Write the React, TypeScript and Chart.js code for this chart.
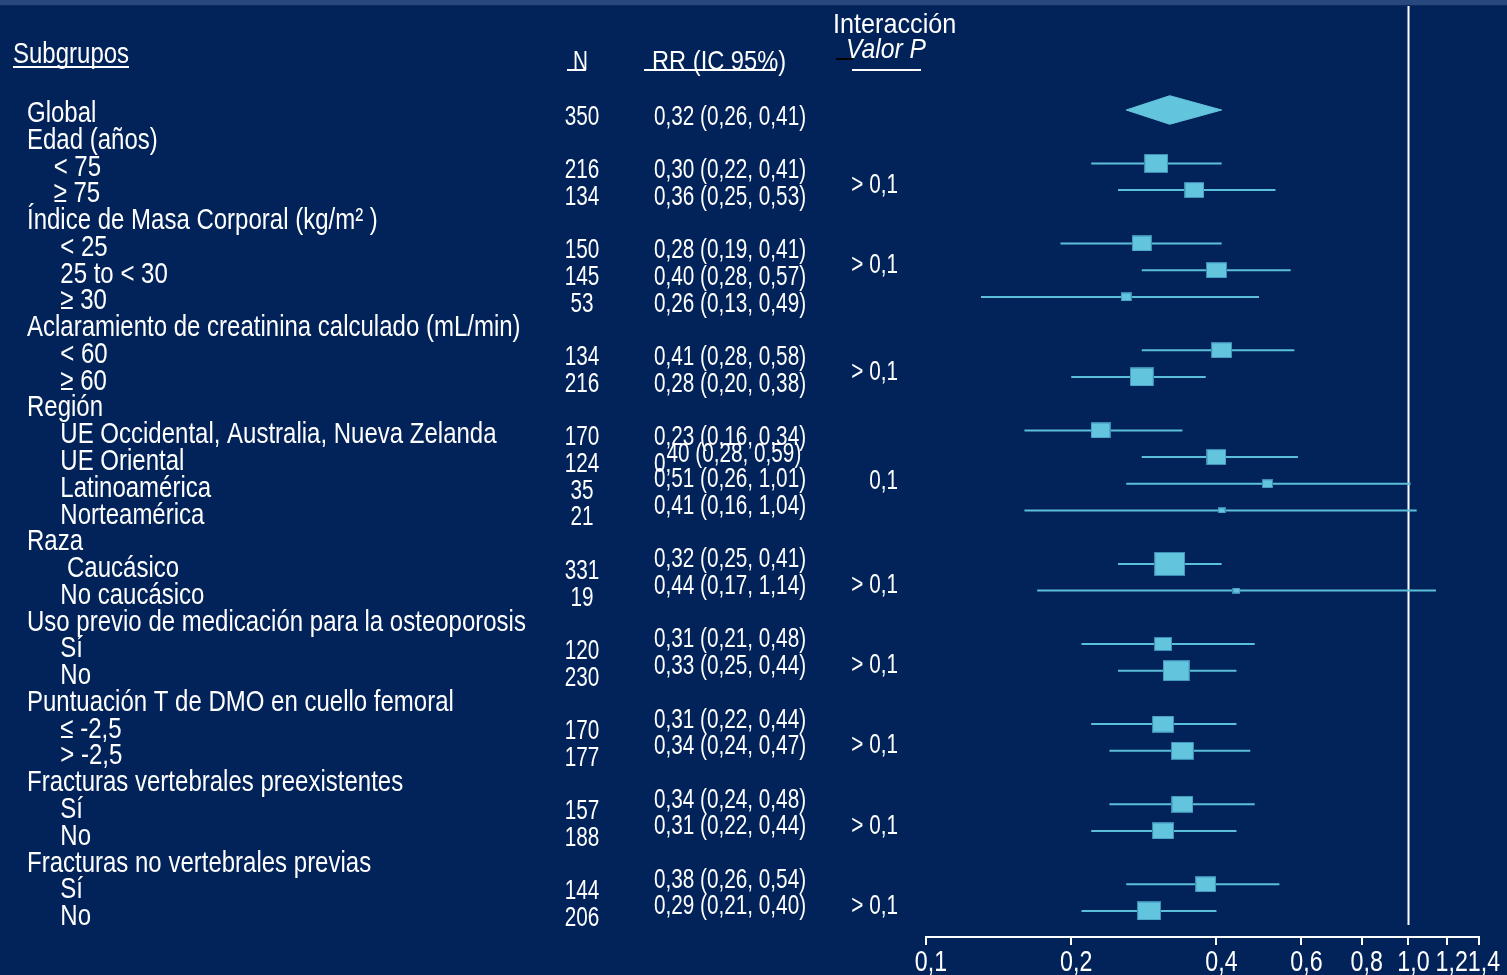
import React, { useEffect, useRef } from 'react';
import { Chart, registerables } from 'chart.js';

Chart.register(...registerables);

// Row labels (leading spaces give the indentation of the subgroups)
const rowLabels = [
  'Global',
  'Edad (años)',
  '    < 75',
  '    ≥ 75',
  'Índice de Masa Corporal (kg/m² )',
  '     < 25',
  '     25 to < 30',
  '     ≥ 30',
  'Aclaramiento de creatinina calculado (mL/min)',
  '     < 60',
  '     ≥ 60',
  'Región',
  '     UE Occidental, Australia, Nueva Zelanda',
  '     UE Oriental',
  '     Latinoamérica',
  '     Norteamérica',
  'Raza',
  '      Caucásico',
  '     No caucásico',
  'Uso previo de medicación para la osteoporosis',
  '     Sí',
  '     No',
  'Puntuación T de DMO en cuello femoral',
  '     ≤ -2,5',
  '     > -2,5',
  'Fracturas vertebrales preexistentes',
  '     Sí',
  '     No',
  'Fracturas no vertebrales previas',
  '     Sí',
  '     No',
];

const nValues: (number | null)[] = [
  350, null, 216, 134, null, 150, 145, 53, null, 134, 216, null, 170, 124, 35, 21,
  null, 331, 19, null, 120, 230, null, 170, 177, null, 157, 188, null, 144, 206,
];

const rrValues: (number | null)[] = [
  0.32, null, 0.30, 0.36, null, 0.28, 0.40, 0.26, null, 0.41, 0.28, null, 0.23, 0.40, 0.51, 0.41,
  null, 0.32, 0.44, null, 0.31, 0.33, null, 0.31, 0.34, null, 0.34, 0.31, null, 0.38, 0.29,
];

const ciLow: (number | null)[] = [
  0.26, null, 0.22, 0.25, null, 0.19, 0.28, 0.13, null, 0.28, 0.20, null, 0.16, 0.28, 0.26, 0.16,
  null, 0.25, 0.17, null, 0.21, 0.25, null, 0.22, 0.24, null, 0.24, 0.22, null, 0.26, 0.21,
];

const ciHigh: (number | null)[] = [
  0.41, null, 0.41, 0.53, null, 0.41, 0.57, 0.49, null, 0.58, 0.38, null, 0.34, 0.59, 1.01, 1.04,
  null, 0.41, 1.14, null, 0.48, 0.44, null, 0.44, 0.47, null, 0.48, 0.44, null, 0.54, 0.40,
];

// Interaction p-values, one per subgroup family
const pValues = ['> 0,1', '> 0,1', '> 0,1', '0,1', '> 0,1', '> 0,1', '> 0,1', '> 0,1', '> 0,1'];
// row (in y-scale units) where each p-value is printed
const pRows = [2.5, 5.5, 9.5, 13.6, 17.5, 20.5, 23.5, 26.5, 29.5];

const xTicks = [0.1, 0.2, 0.4, 0.6, 0.8, 1.0, 1.2, 1.4];

const BG = '#022359';
const STRIP = '#26487d';
const CYAN = '#63c5dd';
const CYAN_EDGE = '#3b8cb5';
const LINE = '#5cbfd9';
const WHITE = '#ffffff';
const FONT = '"Liberation Sans", Arial, sans-serif';

const Y_MIN = -3.895;
const Y_MAX = 30.974;
const DIAMOND_HALF = 0.535;
const BOX_SCALE = 6.6;
const BOX_ASPECT = 0.78;

const fmt = (v: number) => v.toFixed(2).replace('.', ',');
const fmtTick = (v: number) => v.toFixed(1).replace('.', ',');
const rrText = (i: number) =>
  `${fmt(rrValues[i] as number)} (${fmt(ciLow[i] as number)}, ${fmt(ciHigh[i] as number)})`;

// box size shrinks as the confidence interval widens (inverse-variance weighting)
function markerBox(lo: number, hi: number): HTMLCanvasElement {
  const w = Math.max(6, Math.round(BOX_SCALE / Math.log10(hi / lo)));
  const h = Math.max(5, Math.round(w * BOX_ASPECT));
  const c = document.createElement('canvas');
  c.width = w;
  c.height = h;
  const g = c.getContext('2d')!;
  g.fillStyle = CYAN_EDGE;
  g.fillRect(0, 0, w, h);
  g.fillStyle = CYAN;
  g.fillRect(1, 1, w - 2, h - 2);
  return c;
}

function drawText(
  ctx: CanvasRenderingContext2D,
  s: string,
  x: number,
  y: number,
  size: number,
  sx: number,
  align: CanvasTextAlign = 'left',
  italic = false,
) {
  ctx.save();
  ctx.font = `${italic ? 'italic ' : ''}${size}px ${FONT}`;
  ctx.fillStyle = WHITE;
  ctx.textBaseline = 'alphabetic';
  ctx.textAlign = align;
  ctx.translate(x, y);
  ctx.scale(sx, 1);
  ctx.fillText(s, 0, 0);
  ctx.restore();
}

const forestPlugin = {
  id: 'forestPlot',
  beforeDraw(chart: any) {
    const { ctx, width, height } = chart;
    ctx.save();
    ctx.fillStyle = BG;
    ctx.fillRect(0, 0, width, height);
    ctx.fillStyle = STRIP;
    ctx.fillRect(0, 0, width, 5);
    ctx.fillStyle = '#0c2a5b';
    ctx.fillRect(0, 5, width, 1);
    ctx.restore();
  },
  beforeDatasetsDraw(chart: any) {
    const { ctx, chartArea } = chart;
    const x = Math.round(chart.scales.x.getPixelForValue(1)) + 0.5;
    ctx.save();
    ctx.strokeStyle = WHITE;
    ctx.lineWidth = 2;
    ctx.beginPath();
    ctx.moveTo(x, chartArea.top);
    ctx.lineTo(x, chartArea.bottom - 12);
    ctx.stroke();
    ctx.restore();
  },
  afterDraw(chart: any) {
    const { ctx } = chart;
    const ys = chart.scales.y;
    const xs = chart.scales.x;

    // column headers
    drawText(ctx, 'Subgrupos', 13, 63, 30, 0.8);
    ctx.fillStyle = WHITE;
    ctx.fillRect(13, 66, 116, 2);
    drawText(ctx, 'N', 573, 70, 28, 0.74);
    ctx.fillStyle = WHITE;
    ctx.fillRect(567, 69, 19, 2);
    drawText(ctx, 'RR (IC 95%)', 652, 70, 28, 0.845);
    ctx.fillStyle = WHITE;
    ctx.fillRect(644, 69, 132, 2);
    drawText(ctx, 'Interacción', 833, 33, 28, 0.9);
    drawText(ctx, 'Valor P', 846, 58, 28, 0.88, 'left', true);
    ctx.fillStyle = '#000000';
    ctx.fillRect(836, 58, 17, 2);
    ctx.fillStyle = WHITE;
    ctx.fillRect(852, 69, 69, 2);

    // subgroup labels, N and RR columns
    rowLabels.forEach((label, i) => {
      const y = ys.getPixelForValue(i);
      drawText(ctx, label, 27, y + 12 + i * 0.07, 30, 0.8);
      const n = nValues[i];
      if (n != null) drawText(ctx, String(n), 582, y + 15, 28, 0.74, 'center');
      if (rrValues[i] != null) {
        const s = rrText(i);
        if (i < 13) {
          drawText(ctx, s, 654, y + 15, 28, 0.74);
        } else if (i === 13) {
          // first digit and comma sit on the row line, the rest is raised
          drawText(ctx, s.slice(0, 2), 654, y + 15, 28, 0.74);
          ctx.save();
          ctx.font = `28px ${FONT}`;
          const w0 = ctx.measureText(s.slice(0, 1)).width * 0.74;
          ctx.restore();
          drawText(ctx, s.slice(2), 654 + w0 + 1, y + 4.5, 28, 0.74);
        } else {
          drawText(ctx, s, 654, y + 3.5, 28, 0.74);
        }
      }
    });

    // interaction p-values
    pValues.forEach((p, k) => {
      drawText(ctx, p, 898, ys.getPixelForValue(pRows[k]) + 16, 28, 0.74, 'right');
    });

    // x-axis tick labels
    xTicks.forEach((t) => {
      drawText(ctx, fmtTick(t), xs.getPixelForValue(t) + 5, 971, 29, 0.8, 'center');
    });
  },
};

export default function App() {
  const ref = useRef<HTMLCanvasElement>(null);

  useEffect(() => {
    document.body.style.margin = '0';
    document.body.style.background = BG;
    const canvas = ref.current!;

    const rows = rowLabels.map((_, i) => i);
    const overall = 0;
    const subRows = rows.filter((i) => rrValues[i] != null && i !== overall);
    const boxes = subRows.map((i) => markerBox(ciLow[i] as number, ciHigh[i] as number));

    const datasets: any[] = [];
    // point estimates
    datasets.push({
      type: 'scatter',
      data: subRows.map((i) => ({ x: rrValues[i], y: i })),
      pointStyle: boxes,
      pointRadius: boxes.map((b) => b.width / 2),
      order: 0,
    });
    // overall diamond: upper and lower halves, filled between them
    const lo = ciLow[overall] as number;
    const hi = ciHigh[overall] as number;
    const est = rrValues[overall] as number;
    datasets.push({
      type: 'line',
      data: [
        { x: lo, y: overall },
        { x: est, y: overall - DIAMOND_HALF },
        { x: hi, y: overall },
      ],
      borderColor: CYAN,
      backgroundColor: CYAN,
      borderWidth: 1,
      pointRadius: 0,
      tension: 0,
      fill: '+1',
      order: 1,
    });
    datasets.push({
      type: 'line',
      data: [
        { x: lo, y: overall },
        { x: est, y: overall + DIAMOND_HALF },
        { x: hi, y: overall },
      ],
      borderColor: CYAN,
      borderWidth: 1,
      pointRadius: 0,
      tension: 0,
      fill: false,
      order: 1,
    });
    // confidence intervals
    subRows.forEach((i) => {
      datasets.push({
        type: 'line',
        data: [
          { x: ciLow[i], y: i },
          { x: ciHigh[i], y: i },
        ],
        borderColor: LINE,
        borderWidth: 2,
        pointRadius: 0,
        fill: false,
        order: 2,
      });
    });

    const chart = new Chart(canvas, {
      type: 'scatter',
      data: { datasets },
      options: {
        responsive: false,
        animation: false,
        devicePixelRatio: 1,
        events: [],
        layout: { autoPadding: false, padding: { left: 926, right: 28, top: 6, bottom: 0 } },
        plugins: {
          legend: { display: false },
          tooltip: { enabled: false },
        },
        scales: {
          x: {
            type: 'logarithmic',
            min: 0.1,
            max: 1.4,
            afterBuildTicks: (scale: any) => {
              scale.ticks = xTicks.map((v) => ({ value: v }));
            },
            afterFit: (scale: any) => {
              scale.height = 38;
            },
            ticks: { display: false },
            grid: {
              drawOnChartArea: false,
              drawTicks: true,
              tickLength: 8,
              color: WHITE,
              lineWidth: 2,
            },
            border: { display: true, color: WHITE, width: 2 },
          },
          y: {
            type: 'linear',
            display: false,
            reverse: true,
            min: Y_MIN,
            max: Y_MAX,
          },
        },
      } as any,
      plugins: [forestPlugin],
    });

    return () => chart.destroy();
  }, []);

  return <canvas ref={ref} width={1507} height={975} style={{ display: 'block' }} />;
}
